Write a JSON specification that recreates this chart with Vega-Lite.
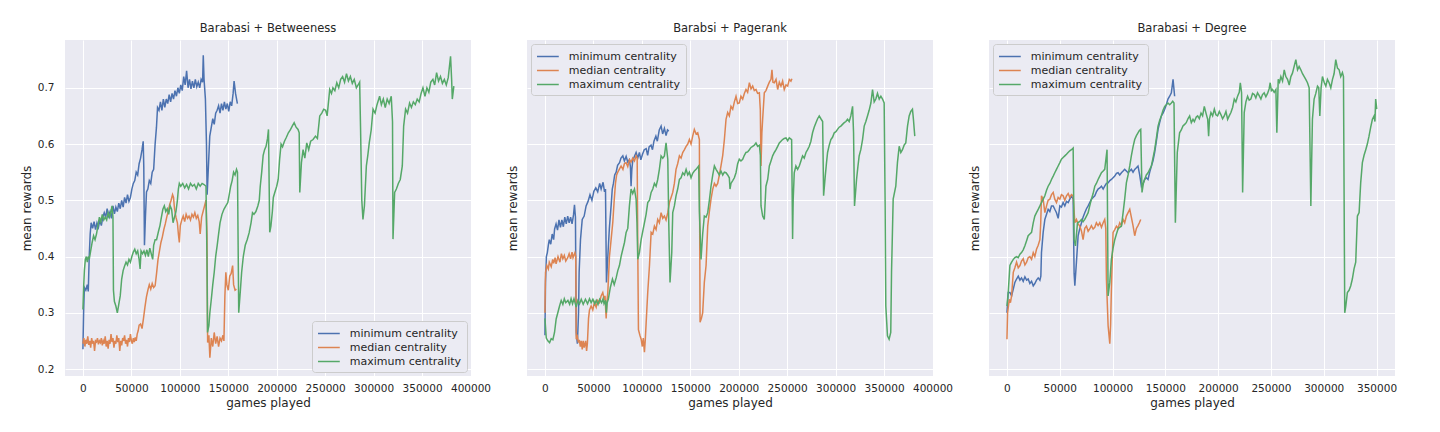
{
  "$schema": "https://vega.github.io/schema/vega-lite/v6.json",
  "background": "white",
  "padding": {"left": 20, "top": 22, "right": 5, "bottom": 5},
  "config": {
    "font": "DejaVu Sans",
    "view": {"fill": "#EAEAF2", "stroke": null},
    "axis": {"domain": false, "ticks": false, "grid": true, "gridColor": "#FFFFFF", "gridWidth": 1, "labelFontSize": 10.5, "labelColor": "#262626", "titleFontSize": 12, "titleFontWeight": "normal", "titleColor": "#262626", "labelFlush": false, "labelOverlap": false},
    "axisX": {"labelPadding": 7, "titlePadding": 4},
    "title": {"fontSize": 11.5, "fontWeight": "normal", "color": "#262626", "offset": 6},
    "legend": {"offset": 4, "padding": 5, "fillColor": "#EBEBF3", "strokeColor": "#CCCCCC", "cornerRadius": 3, "symbolType": "M-1,0H2.35", "symbolSize": 169, "symbolStrokeWidth": 1.5, "labelFontSize": 11, "labelColor": "#262626", "labelOffset": 17.8, "rowPadding": 1}
  },
  "datasets": {
    "p1": [
      {"s":"a","x":0,"y":0.235},{"s":"a","x":700,"y":0.30},{"s":"a","x":1500,"y":0.345},{"s":"a","x":3000,"y":0.340},{"s":"a","x":4500,"y":0.350},{"s":"a","x":5500,"y":0.338},{"s":"a","x":6500,"y":0.40},{"s":"a","x":7500,"y":0.44},{"s":"a","x":8500,"y":0.46},{"s":"a","x":10000,"y":0.45},{"s":"a","x":11500,"y":0.462},{"s":"a","x":13000,"y":0.448},{"s":"a","x":14500,"y":0.46},{"s":"a","x":16000,"y":0.452},{"s":"a","x":17500,"y":0.465},{"s":"a","x":19000,"y":0.455},{"s":"a","x":20500,"y":0.47},{"s":"a","x":22000,"y":0.478},{"s":"a","x":23500,"y":0.47},{"s":"a","x":25000,"y":0.485},{"s":"a","x":26500,"y":0.472},{"s":"a","x":28000,"y":0.48},{"s":"a","x":29500,"y":0.468},{"s":"a","x":31000,"y":0.49},{"s":"a","x":32500,"y":0.476},{"s":"a","x":34000,"y":0.488},{"s":"a","x":35500,"y":0.48},{"s":"a","x":37000,"y":0.495},{"s":"a","x":38500,"y":0.485},{"s":"a","x":40000,"y":0.50},{"s":"a","x":41500,"y":0.488},{"s":"a","x":43000,"y":0.505},{"s":"a","x":44500,"y":0.495},{"s":"a","x":46000,"y":0.51},{"s":"a","x":47500,"y":0.498},{"s":"a","x":49000,"y":0.505},{"s":"a","x":50500,"y":0.52},{"s":"a","x":52000,"y":0.53},{"s":"a","x":53500,"y":0.535},{"s":"a","x":55000,"y":0.55},{"s":"a","x":56500,"y":0.545},{"s":"a","x":58000,"y":0.565},{"s":"a","x":59500,"y":0.575},{"s":"a","x":61000,"y":0.59},{"s":"a","x":62200,"y":0.605},{"s":"a","x":62800,"y":0.56},{"s":"a","x":63500,"y":0.42},{"s":"a","x":64500,"y":0.47},{"s":"a","x":65600,"y":0.515},{"s":"a","x":67000,"y":0.52},{"s":"a","x":68500,"y":0.535},{"s":"a","x":70000,"y":0.53},{"s":"a","x":71500,"y":0.55},{"s":"a","x":73000,"y":0.555},{"s":"a","x":74500,"y":0.60},{"s":"a","x":75900,"y":0.63},{"s":"a","x":77000,"y":0.665},{"s":"a","x":78500,"y":0.66},{"s":"a","x":80000,"y":0.675},{"s":"a","x":81500,"y":0.66},{"s":"a","x":83000,"y":0.68},{"s":"a","x":84500,"y":0.665},{"s":"a","x":86000,"y":0.68},{"s":"a","x":87500,"y":0.672},{"s":"a","x":89000,"y":0.688},{"s":"a","x":90500,"y":0.675},{"s":"a","x":92000,"y":0.69},{"s":"a","x":93500,"y":0.68},{"s":"a","x":95000,"y":0.695},{"s":"a","x":96500,"y":0.685},{"s":"a","x":98000,"y":0.70},{"s":"a","x":99500,"y":0.69},{"s":"a","x":101000,"y":0.705},{"s":"a","x":102500,"y":0.695},{"s":"a","x":104000,"y":0.72},{"s":"a","x":105500,"y":0.705},{"s":"a","x":107000,"y":0.73},{"s":"a","x":108500,"y":0.70},{"s":"a","x":110000,"y":0.715},{"s":"a","x":111500,"y":0.698},{"s":"a","x":113000,"y":0.712},{"s":"a","x":114500,"y":0.70},{"s":"a","x":116000,"y":0.715},{"s":"a","x":117500,"y":0.702},{"s":"a","x":119000,"y":0.71},{"s":"a","x":120500,"y":0.70},{"s":"a","x":122000,"y":0.715},{"s":"a","x":123500,"y":0.71},{"s":"a","x":124200,"y":0.758},{"s":"a","x":125000,"y":0.715},{"s":"a","x":126400,"y":0.68},{"s":"a","x":127500,"y":0.60},{"s":"a","x":128200,"y":0.51},{"s":"a","x":129500,"y":0.56},{"s":"a","x":130900,"y":0.614},{"s":"a","x":132500,"y":0.63},{"s":"a","x":134000,"y":0.645},{"s":"a","x":135500,"y":0.635},{"s":"a","x":137000,"y":0.655},{"s":"a","x":138500,"y":0.66},{"s":"a","x":140000,"y":0.668},{"s":"a","x":141500,"y":0.655},{"s":"a","x":143000,"y":0.672},{"s":"a","x":144500,"y":0.66},{"s":"a","x":146000,"y":0.675},{"s":"a","x":147500,"y":0.662},{"s":"a","x":149000,"y":0.672},{"s":"a","x":150500,"y":0.658},{"s":"a","x":152000,"y":0.675},{"s":"a","x":153500,"y":0.668},{"s":"a","x":155000,"y":0.69},{"s":"a","x":156000,"y":0.712},{"s":"a","x":157500,"y":0.69},{"s":"a","x":159400,"y":0.672},
      {"s":"b","x":0,"y":0.245},{"s":"b","x":1000,"y":0.255},{"s":"b","x":2000,"y":0.24},{"s":"b","x":3000,"y":0.252},{"s":"b","x":4000,"y":0.245},{"s":"b","x":5000,"y":0.258},{"s":"b","x":6000,"y":0.243},{"s":"b","x":7000,"y":0.25},{"s":"b","x":8000,"y":0.238},{"s":"b","x":9000,"y":0.255},{"s":"b","x":10000,"y":0.245},{"s":"b","x":11000,"y":0.25},{"s":"b","x":12000,"y":0.232},{"s":"b","x":13000,"y":0.25},{"s":"b","x":14000,"y":0.248},{"s":"b","x":15000,"y":0.255},{"s":"b","x":16000,"y":0.244},{"s":"b","x":17000,"y":0.25},{"s":"b","x":18000,"y":0.247},{"s":"b","x":19000,"y":0.255},{"s":"b","x":20000,"y":0.242},{"s":"b","x":21000,"y":0.25},{"s":"b","x":22000,"y":0.245},{"s":"b","x":23000,"y":0.258},{"s":"b","x":24000,"y":0.24},{"s":"b","x":25000,"y":0.25},{"s":"b","x":26000,"y":0.236},{"s":"b","x":27000,"y":0.252},{"s":"b","x":28000,"y":0.245},{"s":"b","x":29000,"y":0.262},{"s":"b","x":30000,"y":0.248},{"s":"b","x":31000,"y":0.255},{"s":"b","x":32000,"y":0.238},{"s":"b","x":33000,"y":0.25},{"s":"b","x":34000,"y":0.245},{"s":"b","x":35000,"y":0.26},{"s":"b","x":36000,"y":0.248},{"s":"b","x":37000,"y":0.255},{"s":"b","x":38000,"y":0.232},{"s":"b","x":39000,"y":0.25},{"s":"b","x":40000,"y":0.242},{"s":"b","x":41000,"y":0.255},{"s":"b","x":42000,"y":0.25},{"s":"b","x":43000,"y":0.26},{"s":"b","x":44000,"y":0.245},{"s":"b","x":45000,"y":0.252},{"s":"b","x":46000,"y":0.24},{"s":"b","x":47000,"y":0.255},{"s":"b","x":48000,"y":0.248},{"s":"b","x":49000,"y":0.262},{"s":"b","x":50000,"y":0.25},{"s":"b","x":51000,"y":0.245},{"s":"b","x":52000,"y":0.255},{"s":"b","x":53000,"y":0.248},{"s":"b","x":54000,"y":0.256},{"s":"b","x":55000,"y":0.25},{"s":"b","x":56000,"y":0.262},{"s":"b","x":57000,"y":0.268},{"s":"b","x":58000,"y":0.278},{"s":"b","x":59500,"y":0.28},{"s":"b","x":61000,"y":0.272},{"s":"b","x":62500,"y":0.29},{"s":"b","x":64000,"y":0.31},{"s":"b","x":65500,"y":0.328},{"s":"b","x":67000,"y":0.34},{"s":"b","x":68500,"y":0.35},{"s":"b","x":70000,"y":0.342},{"s":"b","x":71500,"y":0.352},{"s":"b","x":73000,"y":0.345},{"s":"b","x":74500,"y":0.348},{"s":"b","x":76000,"y":0.37},{"s":"b","x":77500,"y":0.395},{"s":"b","x":79000,"y":0.41},{"s":"b","x":80500,"y":0.425},{"s":"b","x":82000,"y":0.435},{"s":"b","x":83500,"y":0.448},{"s":"b","x":85000,"y":0.458},{"s":"b","x":86500,"y":0.47},{"s":"b","x":88000,"y":0.48},{"s":"b","x":89500,"y":0.492},{"s":"b","x":91000,"y":0.50},{"s":"b","x":92500,"y":0.51},{"s":"b","x":93500,"y":0.505},{"s":"b","x":94500,"y":0.485},{"s":"b","x":96000,"y":0.47},{"s":"b","x":97500,"y":0.46},{"s":"b","x":98500,"y":0.44},{"s":"b","x":99500,"y":0.425},{"s":"b","x":100500,"y":0.455},{"s":"b","x":102000,"y":0.465},{"s":"b","x":103500,"y":0.472},{"s":"b","x":105000,"y":0.462},{"s":"b","x":106500,"y":0.475},{"s":"b","x":108000,"y":0.468},{"s":"b","x":109500,"y":0.472},{"s":"b","x":111000,"y":0.465},{"s":"b","x":112500,"y":0.475},{"s":"b","x":114000,"y":0.47},{"s":"b","x":115500,"y":0.478},{"s":"b","x":117000,"y":0.468},{"s":"b","x":118500,"y":0.473},{"s":"b","x":120000,"y":0.462},{"s":"b","x":121000,"y":0.44},{"s":"b","x":122500,"y":0.47},{"s":"b","x":124000,"y":0.48},{"s":"b","x":125500,"y":0.49},{"s":"b","x":127000,"y":0.50},{"s":"b","x":128000,"y":0.44},{"s":"b","x":128700,"y":0.247},{"s":"b","x":130000,"y":0.26},{"s":"b","x":131000,"y":0.22},{"s":"b","x":132500,"y":0.255},{"s":"b","x":134000,"y":0.24},{"s":"b","x":135500,"y":0.265},{"s":"b","x":137000,"y":0.245},{"s":"b","x":138500,"y":0.258},{"s":"b","x":140000,"y":0.24},{"s":"b","x":141500,"y":0.255},{"s":"b","x":143000,"y":0.25},{"s":"b","x":144500,"y":0.26},{"s":"b","x":145500,"y":0.25},{"s":"b","x":146500,"y":0.33},{"s":"b","x":147500,"y":0.372},{"s":"b","x":148500,"y":0.35},{"s":"b","x":150000,"y":0.34},{"s":"b","x":151500,"y":0.365},{"s":"b","x":153000,"y":0.37},{"s":"b","x":154500,"y":0.384},{"s":"b","x":155500,"y":0.35},{"s":"b","x":157000,"y":0.34},{"s":"b","x":158400,"y":0.342},
      {"s":"c","x":0,"y":0.306},{"s":"c","x":800,"y":0.348},{"s":"c","x":1500,"y":0.375},{"s":"c","x":2500,"y":0.395},{"s":"c","x":3500,"y":0.40},{"s":"c","x":4500,"y":0.39},{"s":"c","x":5500,"y":0.40},{"s":"c","x":6500,"y":0.395},{"s":"c","x":8000,"y":0.41},{"s":"c","x":9500,"y":0.425},{"s":"c","x":11000,"y":0.437},{"s":"c","x":12500,"y":0.43},{"s":"c","x":14000,"y":0.44},{"s":"c","x":15500,"y":0.455},{"s":"c","x":17000,"y":0.47},{"s":"c","x":18500,"y":0.462},{"s":"c","x":20000,"y":0.475},{"s":"c","x":21500,"y":0.465},{"s":"c","x":23000,"y":0.47},{"s":"c","x":24500,"y":0.465},{"s":"c","x":26000,"y":0.478},{"s":"c","x":27500,"y":0.47},{"s":"c","x":29000,"y":0.48},{"s":"c","x":30000,"y":0.49},{"s":"c","x":31000,"y":0.47},{"s":"c","x":31500,"y":0.34},{"s":"c","x":32500,"y":0.32},{"s":"c","x":34000,"y":0.312},{"s":"c","x":35500,"y":0.30},{"s":"c","x":37000,"y":0.315},{"s":"c","x":38500,"y":0.33},{"s":"c","x":40000,"y":0.36},{"s":"c","x":41500,"y":0.375},{"s":"c","x":43000,"y":0.383},{"s":"c","x":44500,"y":0.39},{"s":"c","x":46000,"y":0.385},{"s":"c","x":47500,"y":0.395},{"s":"c","x":49000,"y":0.39},{"s":"c","x":50500,"y":0.40},{"s":"c","x":52000,"y":0.408},{"s":"c","x":53500,"y":0.413},{"s":"c","x":55000,"y":0.405},{"s":"c","x":56500,"y":0.41},{"s":"c","x":58000,"y":0.395},{"s":"c","x":59000,"y":0.378},{"s":"c","x":60000,"y":0.41},{"s":"c","x":61500,"y":0.405},{"s":"c","x":63000,"y":0.41},{"s":"c","x":64500,"y":0.402},{"s":"c","x":66000,"y":0.412},{"s":"c","x":67500,"y":0.40},{"s":"c","x":69000,"y":0.415},{"s":"c","x":70500,"y":0.405},{"s":"c","x":72000,"y":0.395},{"s":"c","x":73000,"y":0.42},{"s":"c","x":74500,"y":0.43},{"s":"c","x":76000,"y":0.43},{"s":"c","x":78000,"y":0.445},{"s":"c","x":79500,"y":0.455},{"s":"c","x":81000,"y":0.47},{"s":"c","x":82500,"y":0.484},{"s":"c","x":84000,"y":0.49},{"s":"c","x":85500,"y":0.48},{"s":"c","x":87000,"y":0.485},{"s":"c","x":88500,"y":0.475},{"s":"c","x":90000,"y":0.49},{"s":"c","x":91500,"y":0.484},{"s":"c","x":93000,"y":0.46},{"s":"c","x":94500,"y":0.47},{"s":"c","x":96000,"y":0.48},{"s":"c","x":97500,"y":0.50},{"s":"c","x":98500,"y":0.52},{"s":"c","x":99500,"y":0.53},{"s":"c","x":101000,"y":0.525},{"s":"c","x":103000,"y":0.53},{"s":"c","x":105000,"y":0.522},{"s":"c","x":107000,"y":0.528},{"s":"c","x":109000,"y":0.52},{"s":"c","x":111000,"y":0.53},{"s":"c","x":113000,"y":0.525},{"s":"c","x":115000,"y":0.528},{"s":"c","x":117000,"y":0.52},{"s":"c","x":119000,"y":0.53},{"s":"c","x":121000,"y":0.525},{"s":"c","x":123000,"y":0.53},{"s":"c","x":125000,"y":0.528},{"s":"c","x":127000,"y":0.525},{"s":"c","x":128000,"y":0.40},{"s":"c","x":128600,"y":0.265},{"s":"c","x":130000,"y":0.277},{"s":"c","x":131000,"y":0.30},{"s":"c","x":132500,"y":0.324},{"s":"c","x":134000,"y":0.35},{"s":"c","x":135500,"y":0.372},{"s":"c","x":137000,"y":0.40},{"s":"c","x":138500,"y":0.419},{"s":"c","x":140000,"y":0.44},{"s":"c","x":141500,"y":0.46},{"s":"c","x":143500,"y":0.475},{"s":"c","x":145500,"y":0.484},{"s":"c","x":147500,"y":0.49},{"s":"c","x":149500,"y":0.496},{"s":"c","x":151000,"y":0.51},{"s":"c","x":152500,"y":0.525},{"s":"c","x":154000,"y":0.535},{"s":"c","x":155500,"y":0.55},{"s":"c","x":157000,"y":0.545},{"s":"c","x":158500,"y":0.555},{"s":"c","x":159500,"y":0.55},{"s":"c","x":160800,"y":0.30},{"s":"c","x":162500,"y":0.34},{"s":"c","x":163800,"y":0.372},{"s":"c","x":165500,"y":0.40},{"s":"c","x":167500,"y":0.42},{"s":"c","x":169500,"y":0.43},{"s":"c","x":171500,"y":0.442},{"s":"c","x":173500,"y":0.46},{"s":"c","x":175000,"y":0.478},{"s":"c","x":176500,"y":0.475},{"s":"c","x":178500,"y":0.48},{"s":"c","x":180500,"y":0.49},{"s":"c","x":182000,"y":0.50},{"s":"c","x":183000,"y":0.525},{"s":"c","x":184500,"y":0.55},{"s":"c","x":186000,"y":0.58},{"s":"c","x":187500,"y":0.59},{"s":"c","x":189000,"y":0.596},{"s":"c","x":190500,"y":0.61},{"s":"c","x":191500,"y":0.626},{"s":"c","x":192800,"y":0.443},{"s":"c","x":194000,"y":0.454},{"s":"c","x":195500,"y":0.48},{"s":"c","x":196500,"y":0.505},{"s":"c","x":198000,"y":0.514},{"s":"c","x":200000,"y":0.525},{"s":"c","x":201500,"y":0.537},{"s":"c","x":203000,"y":0.573},{"s":"c","x":204500,"y":0.60},{"s":"c","x":206000,"y":0.595},{"s":"c","x":208000,"y":0.605},{"s":"c","x":210000,"y":0.612},{"s":"c","x":212000,"y":0.62},{"s":"c","x":214000,"y":0.625},{"s":"c","x":216000,"y":0.632},{"s":"c","x":218000,"y":0.638},{"s":"c","x":220000,"y":0.63},{"s":"c","x":222000,"y":0.626},{"s":"c","x":223200,"y":0.62},{"s":"c","x":223800,"y":0.514},{"s":"c","x":225500,"y":0.567},{"s":"c","x":227200,"y":0.59},{"s":"c","x":229000,"y":0.575},{"s":"c","x":231000,"y":0.602},{"s":"c","x":233000,"y":0.59},{"s":"c","x":235000,"y":0.605},{"s":"c","x":237500,"y":0.608},{"s":"c","x":240000,"y":0.614},{"s":"c","x":242000,"y":0.61},{"s":"c","x":244400,"y":0.65},{"s":"c","x":246500,"y":0.655},{"s":"c","x":248500,"y":0.662},{"s":"c","x":250500,"y":0.66},{"s":"c","x":252000,"y":0.65},{"s":"c","x":253000,"y":0.667},{"s":"c","x":254700,"y":0.697},{"s":"c","x":256500,"y":0.69},{"s":"c","x":258000,"y":0.70},{"s":"c","x":260000,"y":0.695},{"s":"c","x":262000,"y":0.709},{"s":"c","x":264000,"y":0.70},{"s":"c","x":266000,"y":0.715},{"s":"c","x":268000,"y":0.72},{"s":"c","x":270000,"y":0.71},{"s":"c","x":272000,"y":0.725},{"s":"c","x":274000,"y":0.712},{"s":"c","x":276000,"y":0.72},{"s":"c","x":278000,"y":0.708},{"s":"c","x":280000,"y":0.715},{"s":"c","x":282200,"y":0.70},{"s":"c","x":284000,"y":0.705},{"s":"c","x":285600,"y":0.71},{"s":"c","x":286500,"y":0.63},{"s":"c","x":287800,"y":0.50},{"s":"c","x":289000,"y":0.466},{"s":"c","x":290500,"y":0.49},{"s":"c","x":292500,"y":0.561},{"s":"c","x":294000,"y":0.58},{"s":"c","x":295500,"y":0.602},{"s":"c","x":297500,"y":0.625},{"s":"c","x":299400,"y":0.662},{"s":"c","x":301500,"y":0.655},{"s":"c","x":303500,"y":0.67},{"s":"c","x":306200,"y":0.685},{"s":"c","x":308000,"y":0.67},{"s":"c","x":310000,"y":0.68},{"s":"c","x":312000,"y":0.665},{"s":"c","x":314000,"y":0.68},{"s":"c","x":316000,"y":0.672},{"s":"c","x":318200,"y":0.685},{"s":"c","x":319500,"y":0.64},{"s":"c","x":320000,"y":0.431},{"s":"c","x":321700,"y":0.514},{"s":"c","x":323500,"y":0.52},{"s":"c","x":325500,"y":0.53},{"s":"c","x":327500,"y":0.537},{"s":"c","x":329600,"y":0.561},{"s":"c","x":331000,"y":0.632},{"s":"c","x":333000,"y":0.662},{"s":"c","x":335000,"y":0.655},{"s":"c","x":337100,"y":0.673},{"s":"c","x":339000,"y":0.665},{"s":"c","x":341000,"y":0.675},{"s":"c","x":343000,"y":0.67},{"s":"c","x":345000,"y":0.68},{"s":"c","x":347000,"y":0.675},{"s":"c","x":349000,"y":0.69},{"s":"c","x":350900,"y":0.70},{"s":"c","x":353000,"y":0.685},{"s":"c","x":355000,"y":0.70},{"s":"c","x":357000,"y":0.692},{"s":"c","x":359000,"y":0.71},{"s":"c","x":361200,"y":0.715},{"s":"c","x":363000,"y":0.705},{"s":"c","x":365000,"y":0.727},{"s":"c","x":367000,"y":0.712},{"s":"c","x":369000,"y":0.72},{"s":"c","x":371000,"y":0.708},{"s":"c","x":373000,"y":0.715},{"s":"c","x":375000,"y":0.705},{"s":"c","x":377000,"y":0.718},{"s":"c","x":379400,"y":0.756},{"s":"c","x":380500,"y":0.715},{"s":"c","x":381200,"y":0.68},{"s":"c","x":382800,"y":0.703}
    ],
    "p2": [
      {"s":"a","x":0,"y":0.26},{"s":"a","x":600,"y":0.354},{"s":"a","x":1500,"y":0.40},{"s":"a","x":2500,"y":0.407},{"s":"a","x":3500,"y":0.42},{"s":"a","x":4500,"y":0.43},{"s":"a","x":6000,"y":0.422},{"s":"a","x":7500,"y":0.44},{"s":"a","x":9000,"y":0.43},{"s":"a","x":10000,"y":0.449},{"s":"a","x":11500,"y":0.458},{"s":"a","x":13000,"y":0.447},{"s":"a","x":14500,"y":0.465},{"s":"a","x":16000,"y":0.452},{"s":"a","x":17500,"y":0.465},{"s":"a","x":19000,"y":0.453},{"s":"a","x":20500,"y":0.47},{"s":"a","x":22000,"y":0.458},{"s":"a","x":23500,"y":0.472},{"s":"a","x":25000,"y":0.46},{"s":"a","x":26500,"y":0.47},{"s":"a","x":28000,"y":0.458},{"s":"a","x":29500,"y":0.474},{"s":"a","x":30500,"y":0.492},{"s":"a","x":31500,"y":0.47},{"s":"a","x":32300,"y":0.265},{"s":"a","x":33500,"y":0.245},{"s":"a","x":34700,"y":0.30},{"s":"a","x":35300,"y":0.372},{"s":"a","x":36700,"y":0.43},{"s":"a","x":38500,"y":0.466},{"s":"a","x":40500,"y":0.472},{"s":"a","x":42500,"y":0.49},{"s":"a","x":44500,"y":0.498},{"s":"a","x":46500,"y":0.51},{"s":"a","x":48500,"y":0.50},{"s":"a","x":50500,"y":0.516},{"s":"a","x":52500,"y":0.522},{"s":"a","x":54500,"y":0.515},{"s":"a","x":56500,"y":0.53},{"s":"a","x":58000,"y":0.52},{"s":"a","x":60000,"y":0.532},{"s":"a","x":61500,"y":0.515},{"s":"a","x":62500,"y":0.52},{"s":"a","x":63500,"y":0.354},{"s":"a","x":64900,"y":0.40},{"s":"a","x":66500,"y":0.45},{"s":"a","x":68300,"y":0.49},{"s":"a","x":69500,"y":0.52},{"s":"a","x":70700,"y":0.53},{"s":"a","x":72000,"y":0.545},{"s":"a","x":73500,"y":0.55},{"s":"a","x":75000,"y":0.562},{"s":"a","x":77000,"y":0.567},{"s":"a","x":78500,"y":0.575},{"s":"a","x":80400,"y":0.579},{"s":"a","x":82000,"y":0.57},{"s":"a","x":83800,"y":0.578},{"s":"a","x":85500,"y":0.568},{"s":"a","x":87200,"y":0.572},{"s":"a","x":88200,"y":0.56},{"s":"a","x":88900,"y":0.525},{"s":"a","x":89700,"y":0.555},{"s":"a","x":90600,"y":0.57},{"s":"a","x":92300,"y":0.578},{"s":"a","x":94100,"y":0.585},{"s":"a","x":95800,"y":0.575},{"s":"a","x":97500,"y":0.585},{"s":"a","x":99000,"y":0.572},{"s":"a","x":100700,"y":0.582},{"s":"a","x":102500,"y":0.59},{"s":"a","x":104500,"y":0.592},{"s":"a","x":106000,"y":0.58},{"s":"a","x":107500,"y":0.595},{"s":"a","x":109500,"y":0.598},{"s":"a","x":111000,"y":0.59},{"s":"a","x":112500,"y":0.605},{"s":"a","x":114500,"y":0.614},{"s":"a","x":116000,"y":0.605},{"s":"a","x":118000,"y":0.625},{"s":"a","x":119900,"y":0.632},{"s":"a","x":121500,"y":0.618},{"s":"a","x":123300,"y":0.628},{"s":"a","x":125000,"y":0.615},{"s":"a","x":126500,"y":0.625},{"s":"a","x":127800,"y":0.623},
      {"s":"b","x":0,"y":0.30},{"s":"b","x":600,"y":0.372},{"s":"b","x":2000,"y":0.384},{"s":"b","x":3500,"y":0.378},{"s":"b","x":4500,"y":0.39},{"s":"b","x":6500,"y":0.382},{"s":"b","x":8000,"y":0.395},{"s":"b","x":9000,"y":0.388},{"s":"b","x":10500,"y":0.398},{"s":"b","x":11500,"y":0.387},{"s":"b","x":13500,"y":0.40},{"s":"b","x":15500,"y":0.39},{"s":"b","x":17000,"y":0.405},{"s":"b","x":18500,"y":0.396},{"s":"b","x":20000,"y":0.402},{"s":"b","x":21500,"y":0.392},{"s":"b","x":23500,"y":0.398},{"s":"b","x":25000,"y":0.405},{"s":"b","x":26500,"y":0.396},{"s":"b","x":28000,"y":0.408},{"s":"b","x":29000,"y":0.398},{"s":"b","x":31000,"y":0.407},{"s":"b","x":31800,"y":0.40},{"s":"b","x":32300,"y":0.253},{"s":"b","x":33500,"y":0.258},{"s":"b","x":34500,"y":0.247},{"s":"b","x":35500,"y":0.252},{"s":"b","x":36500,"y":0.24},{"s":"b","x":37500,"y":0.25},{"s":"b","x":38500,"y":0.235},{"s":"b","x":39500,"y":0.25},{"s":"b","x":40500,"y":0.238},{"s":"b","x":42000,"y":0.25},{"s":"b","x":43000,"y":0.232},{"s":"b","x":43800,"y":0.245},{"s":"b","x":45000,"y":0.29},{"s":"b","x":46000,"y":0.305},{"s":"b","x":47700,"y":0.312},{"s":"b","x":49400,"y":0.305},{"s":"b","x":51000,"y":0.318},{"s":"b","x":52900,"y":0.31},{"s":"b","x":54500,"y":0.322},{"s":"b","x":56300,"y":0.318},{"s":"b","x":58000,"y":0.33},{"s":"b","x":59700,"y":0.336},{"s":"b","x":61000,"y":0.325},{"s":"b","x":62000,"y":0.33},{"s":"b","x":63200,"y":0.29},{"s":"b","x":64000,"y":0.32},{"s":"b","x":64900,"y":0.336},{"s":"b","x":66600,"y":0.40},{"s":"b","x":68300,"y":0.43},{"s":"b","x":70000,"y":0.46},{"s":"b","x":71500,"y":0.50},{"s":"b","x":72800,"y":0.53},{"s":"b","x":74000,"y":0.545},{"s":"b","x":75200,"y":0.55},{"s":"b","x":77000,"y":0.556},{"s":"b","x":78600,"y":0.561},{"s":"b","x":80500,"y":0.555},{"s":"b","x":82000,"y":0.565},{"s":"b","x":83800,"y":0.567},{"s":"b","x":85500,"y":0.56},{"s":"b","x":87200,"y":0.572},{"s":"b","x":88900,"y":0.568},{"s":"b","x":90600,"y":0.575},{"s":"b","x":92400,"y":0.57},{"s":"b","x":94100,"y":0.579},{"s":"b","x":95200,"y":0.575},{"s":"b","x":95800,"y":0.42},{"s":"b","x":96500,"y":0.27},{"s":"b","x":98000,"y":0.26},{"s":"b","x":99300,"y":0.253},{"s":"b","x":100500,"y":0.24},{"s":"b","x":101500,"y":0.255},{"s":"b","x":102700,"y":0.23},{"s":"b","x":103500,"y":0.25},{"s":"b","x":104400,"y":0.28},{"s":"b","x":105300,"y":0.31},{"s":"b","x":106100,"y":0.336},{"s":"b","x":107900,"y":0.384},{"s":"b","x":109600,"y":0.443},{"s":"b","x":111300,"y":0.44},{"s":"b","x":113000,"y":0.454},{"s":"b","x":114700,"y":0.448},{"s":"b","x":116400,"y":0.466},{"s":"b","x":118100,"y":0.46},{"s":"b","x":119900,"y":0.478},{"s":"b","x":121600,"y":0.468},{"s":"b","x":123300,"y":0.472},{"s":"b","x":125000,"y":0.465},{"s":"b","x":126800,"y":0.478},{"s":"b","x":128500,"y":0.496},{"s":"b","x":130200,"y":0.505},{"s":"b","x":131900,"y":0.514},{"s":"b","x":133600,"y":0.53},{"s":"b","x":135300,"y":0.555},{"s":"b","x":137000,"y":0.565},{"s":"b","x":138800,"y":0.579},{"s":"b","x":140500,"y":0.575},{"s":"b","x":142200,"y":0.585},{"s":"b","x":144000,"y":0.59},{"s":"b","x":145700,"y":0.596},{"s":"b","x":147400,"y":0.60},{"s":"b","x":149100,"y":0.608},{"s":"b","x":150800,"y":0.60},{"s":"b","x":152500,"y":0.614},{"s":"b","x":154200,"y":0.626},{"s":"b","x":156000,"y":0.618},{"s":"b","x":157700,"y":0.62},{"s":"b","x":159400,"y":0.608},{"s":"b","x":160100,"y":0.283},{"s":"b","x":161500,"y":0.29},{"s":"b","x":162800,"y":0.30},{"s":"b","x":164500,"y":0.354},{"s":"b","x":166300,"y":0.384},{"s":"b","x":168000,"y":0.454},{"s":"b","x":169700,"y":0.48},{"s":"b","x":171400,"y":0.502},{"s":"b","x":173200,"y":0.52},{"s":"b","x":174900,"y":0.53},{"s":"b","x":176600,"y":0.525},{"s":"b","x":178300,"y":0.53},{"s":"b","x":180000,"y":0.545},{"s":"b","x":181700,"y":0.561},{"s":"b","x":183500,"y":0.58},{"s":"b","x":185200,"y":0.608},{"s":"b","x":186900,"y":0.644},{"s":"b","x":188600,"y":0.656},{"s":"b","x":190300,"y":0.65},{"s":"b","x":192000,"y":0.667},{"s":"b","x":193800,"y":0.662},{"s":"b","x":195500,"y":0.675},{"s":"b","x":197200,"y":0.685},{"s":"b","x":198900,"y":0.672},{"s":"b","x":200600,"y":0.673},{"s":"b","x":202300,"y":0.685},{"s":"b","x":204100,"y":0.68},{"s":"b","x":205800,"y":0.69},{"s":"b","x":207500,"y":0.697},{"s":"b","x":209200,"y":0.692},{"s":"b","x":211000,"y":0.709},{"s":"b","x":212700,"y":0.698},{"s":"b","x":214400,"y":0.703},{"s":"b","x":216100,"y":0.695},{"s":"b","x":217800,"y":0.697},{"s":"b","x":219500,"y":0.69},{"s":"b","x":221300,"y":0.691},{"s":"b","x":222300,"y":0.66},{"s":"b","x":223000,"y":0.561},{"s":"b","x":223900,"y":0.62},{"s":"b","x":224700,"y":0.644},{"s":"b","x":226400,"y":0.691},{"s":"b","x":228100,"y":0.695},{"s":"b","x":229900,"y":0.703},{"s":"b","x":231600,"y":0.71},{"s":"b","x":233300,"y":0.715},{"s":"b","x":234300,"y":0.732},{"s":"b","x":235300,"y":0.71},{"s":"b","x":236700,"y":0.709},{"s":"b","x":238500,"y":0.715},{"s":"b","x":240200,"y":0.697},{"s":"b","x":241900,"y":0.71},{"s":"b","x":243600,"y":0.703},{"s":"b","x":245300,"y":0.712},{"s":"b","x":247000,"y":0.697},{"s":"b","x":248800,"y":0.705},{"s":"b","x":250500,"y":0.703},{"s":"b","x":252200,"y":0.715},{"s":"b","x":253900,"y":0.712},{"s":"b","x":254900,"y":0.716},
      {"s":"c","x":0,"y":0.29},{"s":"c","x":1400,"y":0.255},{"s":"c","x":3000,"y":0.25},{"s":"c","x":4800,"y":0.247},{"s":"c","x":6500,"y":0.254},{"s":"c","x":8200,"y":0.252},{"s":"c","x":9900,"y":0.265},{"s":"c","x":11600,"y":0.289},{"s":"c","x":13300,"y":0.30},{"s":"c","x":15100,"y":0.312},{"s":"c","x":16800,"y":0.322},{"s":"c","x":18500,"y":0.315},{"s":"c","x":20000,"y":0.325},{"s":"c","x":21500,"y":0.318},{"s":"c","x":23700,"y":0.322},{"s":"c","x":25500,"y":0.315},{"s":"c","x":27000,"y":0.325},{"s":"c","x":28500,"y":0.316},{"s":"c","x":30000,"y":0.325},{"s":"c","x":32300,"y":0.31},{"s":"c","x":34000,"y":0.322},{"s":"c","x":35700,"y":0.316},{"s":"c","x":37500,"y":0.324},{"s":"c","x":39500,"y":0.315},{"s":"c","x":41800,"y":0.324},{"s":"c","x":44000,"y":0.316},{"s":"c","x":46000,"y":0.325},{"s":"c","x":47700,"y":0.318},{"s":"c","x":49500,"y":0.324},{"s":"c","x":51500,"y":0.316},{"s":"c","x":53000,"y":0.322},{"s":"c","x":54800,"y":0.315},{"s":"c","x":56500,"y":0.324},{"s":"c","x":58500,"y":0.318},{"s":"c","x":60000,"y":0.325},{"s":"c","x":61000,"y":0.316},{"s":"c","x":62500,"y":0.322},{"s":"c","x":63400,"y":0.30},{"s":"c","x":64200,"y":0.318},{"s":"c","x":65400,"y":0.324},{"s":"c","x":67500,"y":0.345},{"s":"c","x":69700,"y":0.36},{"s":"c","x":71500,"y":0.35},{"s":"c","x":73500,"y":0.362},{"s":"c","x":75200,"y":0.375},{"s":"c","x":76900,"y":0.384},{"s":"c","x":78600,"y":0.40},{"s":"c","x":80400,"y":0.413},{"s":"c","x":82100,"y":0.425},{"s":"c","x":83800,"y":0.443},{"s":"c","x":85500,"y":0.45},{"s":"c","x":87200,"y":0.49},{"s":"c","x":88900,"y":0.52},{"s":"c","x":90600,"y":0.512},{"s":"c","x":92400,"y":0.52},{"s":"c","x":94100,"y":0.502},{"s":"c","x":95000,"y":0.46},{"s":"c","x":95800,"y":0.395},{"s":"c","x":97500,"y":0.407},{"s":"c","x":99300,"y":0.43},{"s":"c","x":101000,"y":0.445},{"s":"c","x":102700,"y":0.46},{"s":"c","x":104400,"y":0.475},{"s":"c","x":106100,"y":0.496},{"s":"c","x":107900,"y":0.50},{"s":"c","x":109600,"y":0.514},{"s":"c","x":111300,"y":0.52},{"s":"c","x":113000,"y":0.53},{"s":"c","x":114700,"y":0.525},{"s":"c","x":116400,"y":0.537},{"s":"c","x":118100,"y":0.555},{"s":"c","x":119900,"y":0.579},{"s":"c","x":121600,"y":0.575},{"s":"c","x":123300,"y":0.579},{"s":"c","x":125000,"y":0.602},{"s":"c","x":126800,"y":0.573},{"s":"c","x":127800,"y":0.46},{"s":"c","x":129100,"y":0.354},{"s":"c","x":130900,"y":0.407},{"s":"c","x":131900,"y":0.478},{"s":"c","x":133600,"y":0.49},{"s":"c","x":135300,"y":0.508},{"s":"c","x":137000,"y":0.52},{"s":"c","x":138800,"y":0.537},{"s":"c","x":140500,"y":0.54},{"s":"c","x":142200,"y":0.549},{"s":"c","x":144000,"y":0.545},{"s":"c","x":145700,"y":0.555},{"s":"c","x":147400,"y":0.545},{"s":"c","x":149100,"y":0.55},{"s":"c","x":150800,"y":0.54},{"s":"c","x":152500,"y":0.548},{"s":"c","x":154200,"y":0.552},{"s":"c","x":156000,"y":0.555},{"s":"c","x":158700,"y":0.561},{"s":"c","x":159400,"y":0.48},{"s":"c","x":161100,"y":0.395},{"s":"c","x":162800,"y":0.44},{"s":"c","x":164500,"y":0.472},{"s":"c","x":166300,"y":0.47},{"s":"c","x":168000,"y":0.478},{"s":"c","x":169700,"y":0.50},{"s":"c","x":171400,"y":0.525},{"s":"c","x":173200,"y":0.545},{"s":"c","x":174900,"y":0.561},{"s":"c","x":176600,"y":0.555},{"s":"c","x":178300,"y":0.55},{"s":"c","x":180000,"y":0.545},{"s":"c","x":181700,"y":0.552},{"s":"c","x":183500,"y":0.545},{"s":"c","x":185200,"y":0.55},{"s":"c","x":186900,"y":0.549},{"s":"c","x":188600,"y":0.545},{"s":"c","x":190300,"y":0.54},{"s":"c","x":191000,"y":0.52},{"s":"c","x":192000,"y":0.53},{"s":"c","x":193800,"y":0.535},{"s":"c","x":195500,"y":0.54},{"s":"c","x":197200,"y":0.549},{"s":"c","x":198900,"y":0.565},{"s":"c","x":200600,"y":0.573},{"s":"c","x":202300,"y":0.57},{"s":"c","x":204100,"y":0.573},{"s":"c","x":205800,"y":0.58},{"s":"c","x":207500,"y":0.585},{"s":"c","x":209200,"y":0.586},{"s":"c","x":211000,"y":0.59},{"s":"c","x":212700,"y":0.594},{"s":"c","x":214400,"y":0.596},{"s":"c","x":216100,"y":0.598},{"s":"c","x":217800,"y":0.602},{"s":"c","x":219500,"y":0.596},{"s":"c","x":221300,"y":0.598},{"s":"c","x":222300,"y":0.58},{"s":"c","x":223000,"y":0.49},{"s":"c","x":224700,"y":0.472},{"s":"c","x":226400,"y":0.466},{"s":"c","x":228100,"y":0.525},{"s":"c","x":229900,"y":0.537},{"s":"c","x":231600,"y":0.561},{"s":"c","x":233300,"y":0.57},{"s":"c","x":235000,"y":0.579},{"s":"c","x":236700,"y":0.585},{"s":"c","x":238500,"y":0.59},{"s":"c","x":240200,"y":0.596},{"s":"c","x":241900,"y":0.602},{"s":"c","x":243600,"y":0.605},{"s":"c","x":245300,"y":0.608},{"s":"c","x":247000,"y":0.61},{"s":"c","x":248800,"y":0.611},{"s":"c","x":250500,"y":0.606},{"s":"c","x":252200,"y":0.611},{"s":"c","x":254600,"y":0.608},{"s":"c","x":255600,"y":0.431},{"s":"c","x":256200,"y":0.50},{"s":"c","x":257300,"y":0.549},{"s":"c","x":259000,"y":0.561},{"s":"c","x":260800,"y":0.555},{"s":"c","x":262500,"y":0.561},{"s":"c","x":264200,"y":0.57},{"s":"c","x":265900,"y":0.579},{"s":"c","x":267600,"y":0.575},{"s":"c","x":269400,"y":0.585},{"s":"c","x":271100,"y":0.59},{"s":"c","x":272800,"y":0.596},{"s":"c","x":274500,"y":0.605},{"s":"c","x":276200,"y":0.62},{"s":"c","x":277900,"y":0.63},{"s":"c","x":279700,"y":0.638},{"s":"c","x":281400,"y":0.645},{"s":"c","x":283100,"y":0.65},{"s":"c","x":284800,"y":0.645},{"s":"c","x":286600,"y":0.64},{"s":"c","x":287600,"y":0.508},{"s":"c","x":289300,"y":0.543},{"s":"c","x":290500,"y":0.565},{"s":"c","x":291700,"y":0.585},{"s":"c","x":293400,"y":0.598},{"s":"c","x":295100,"y":0.608},{"s":"c","x":296800,"y":0.612},{"s":"c","x":298600,"y":0.62},{"s":"c","x":300300,"y":0.622},{"s":"c","x":302000,"y":0.626},{"s":"c","x":303700,"y":0.63},{"s":"c","x":305400,"y":0.632},{"s":"c","x":307100,"y":0.635},{"s":"c","x":308900,"y":0.638},{"s":"c","x":310600,"y":0.64},{"s":"c","x":312300,"y":0.644},{"s":"c","x":314000,"y":0.64},{"s":"c","x":315700,"y":0.65},{"s":"c","x":317500,"y":0.667},{"s":"c","x":318500,"y":0.62},{"s":"c","x":319500,"y":0.49},{"s":"c","x":321600,"y":0.537},{"s":"c","x":323000,"y":0.56},{"s":"c","x":324300,"y":0.579},{"s":"c","x":326000,"y":0.59},{"s":"c","x":327800,"y":0.608},{"s":"c","x":329500,"y":0.632},{"s":"c","x":331200,"y":0.64},{"s":"c","x":332900,"y":0.65},{"s":"c","x":334600,"y":0.66},{"s":"c","x":336400,"y":0.673},{"s":"c","x":338100,"y":0.697},{"s":"c","x":339800,"y":0.675},{"s":"c","x":341500,"y":0.68},{"s":"c","x":343200,"y":0.69},{"s":"c","x":345000,"y":0.68},{"s":"c","x":346700,"y":0.685},{"s":"c","x":348400,"y":0.68},{"s":"c","x":350100,"y":0.673},{"s":"c","x":351100,"y":0.49},{"s":"c","x":351800,"y":0.312},{"s":"c","x":353500,"y":0.259},{"s":"c","x":355200,"y":0.253},{"s":"c","x":356900,"y":0.265},{"s":"c","x":357700,"y":0.372},{"s":"c","x":359400,"y":0.502},{"s":"c","x":362100,"y":0.525},{"s":"c","x":363800,"y":0.567},{"s":"c","x":365600,"y":0.596},{"s":"c","x":367300,"y":0.585},{"s":"c","x":369000,"y":0.59},{"s":"c","x":370700,"y":0.598},{"s":"c","x":372400,"y":0.602},{"s":"c","x":374200,"y":0.632},{"s":"c","x":375900,"y":0.65},{"s":"c","x":377600,"y":0.658},{"s":"c","x":379300,"y":0.662},{"s":"c","x":380300,"y":0.644},{"s":"c","x":381700,"y":0.614}
    ],
    "p3": [
      {"s":"a","x":0,"y":0.30},{"s":"a","x":1200,"y":0.336},{"s":"a","x":2800,"y":0.336},{"s":"a","x":4400,"y":0.33},{"s":"a","x":6000,"y":0.342},{"s":"a","x":7500,"y":0.354},{"s":"a","x":9100,"y":0.36},{"s":"a","x":10700,"y":0.365},{"s":"a","x":12300,"y":0.358},{"s":"a","x":13800,"y":0.362},{"s":"a","x":15400,"y":0.356},{"s":"a","x":17000,"y":0.364},{"s":"a","x":18600,"y":0.358},{"s":"a","x":20100,"y":0.36},{"s":"a","x":21700,"y":0.352},{"s":"a","x":23300,"y":0.356},{"s":"a","x":24900,"y":0.348},{"s":"a","x":26400,"y":0.352},{"s":"a","x":28000,"y":0.358},{"s":"a","x":29600,"y":0.362},{"s":"a","x":31200,"y":0.358},{"s":"a","x":32100,"y":0.365},{"s":"a","x":32700,"y":0.407},{"s":"a","x":34300,"y":0.443},{"s":"a","x":35900,"y":0.466},{"s":"a","x":37500,"y":0.475},{"s":"a","x":39000,"y":0.484},{"s":"a","x":40600,"y":0.48},{"s":"a","x":42200,"y":0.49},{"s":"a","x":43800,"y":0.49},{"s":"a","x":45300,"y":0.484},{"s":"a","x":46900,"y":0.478},{"s":"a","x":48500,"y":0.468},{"s":"a","x":50100,"y":0.49},{"s":"a","x":51600,"y":0.488},{"s":"a","x":53200,"y":0.496},{"s":"a","x":54800,"y":0.49},{"s":"a","x":56400,"y":0.498},{"s":"a","x":58000,"y":0.496},{"s":"a","x":59500,"y":0.502},{"s":"a","x":61100,"y":0.508},{"s":"a","x":62700,"y":0.502},{"s":"a","x":63600,"y":0.37},{"s":"a","x":64300,"y":0.348},{"s":"a","x":65800,"y":0.39},{"s":"a","x":67400,"y":0.437},{"s":"a","x":69000,"y":0.45},{"s":"a","x":70600,"y":0.46},{"s":"a","x":72100,"y":0.47},{"s":"a","x":73700,"y":0.478},{"s":"a","x":75300,"y":0.485},{"s":"a","x":76900,"y":0.49},{"s":"a","x":78400,"y":0.496},{"s":"a","x":80000,"y":0.502},{"s":"a","x":81600,"y":0.505},{"s":"a","x":83200,"y":0.508},{"s":"a","x":84700,"y":0.515},{"s":"a","x":86300,"y":0.52},{"s":"a","x":87900,"y":0.522},{"s":"a","x":89500,"y":0.525},{"s":"a","x":91100,"y":0.52},{"s":"a","x":92600,"y":0.525},{"s":"a","x":94200,"y":0.53},{"s":"a","x":95800,"y":0.531},{"s":"a","x":97400,"y":0.535},{"s":"a","x":98900,"y":0.537},{"s":"a","x":100500,"y":0.54},{"s":"a","x":102100,"y":0.543},{"s":"a","x":103700,"y":0.548},{"s":"a","x":105200,"y":0.549},{"s":"a","x":106800,"y":0.545},{"s":"a","x":108400,"y":0.549},{"s":"a","x":110000,"y":0.552},{"s":"a","x":111500,"y":0.555},{"s":"a","x":113100,"y":0.552},{"s":"a","x":114700,"y":0.549},{"s":"a","x":116300,"y":0.552},{"s":"a","x":117800,"y":0.555},{"s":"a","x":119400,"y":0.55},{"s":"a","x":121000,"y":0.555},{"s":"a","x":122600,"y":0.558},{"s":"a","x":124100,"y":0.561},{"s":"a","x":125700,"y":0.545},{"s":"a","x":127300,"y":0.525},{"s":"a","x":128900,"y":0.53},{"s":"a","x":130400,"y":0.537},{"s":"a","x":132000,"y":0.54},{"s":"a","x":133600,"y":0.537},{"s":"a","x":135200,"y":0.55},{"s":"a","x":136800,"y":0.561},{"s":"a","x":138300,"y":0.57},{"s":"a","x":139900,"y":0.585},{"s":"a","x":141500,"y":0.605},{"s":"a","x":143100,"y":0.626},{"s":"a","x":144600,"y":0.638},{"s":"a","x":146200,"y":0.65},{"s":"a","x":147800,"y":0.655},{"s":"a","x":149400,"y":0.662},{"s":"a","x":150900,"y":0.67},{"s":"a","x":152500,"y":0.68},{"s":"a","x":154100,"y":0.685},{"s":"a","x":155700,"y":0.691},{"s":"a","x":157300,"y":0.715},{"s":"a","x":158800,"y":0.685},
      {"s":"b","x":0,"y":0.253},{"s":"b","x":600,"y":0.30},{"s":"b","x":2200,"y":0.324},{"s":"b","x":3300,"y":0.318},{"s":"b","x":4400,"y":0.33},{"s":"b","x":6000,"y":0.372},{"s":"b","x":7500,"y":0.38},{"s":"b","x":9100,"y":0.39},{"s":"b","x":10700,"y":0.38},{"s":"b","x":12300,"y":0.384},{"s":"b","x":13800,"y":0.392},{"s":"b","x":15400,"y":0.396},{"s":"b","x":17000,"y":0.385},{"s":"b","x":18600,"y":0.39},{"s":"b","x":20100,"y":0.398},{"s":"b","x":21700,"y":0.40},{"s":"b","x":23300,"y":0.395},{"s":"b","x":24900,"y":0.407},{"s":"b","x":26400,"y":0.40},{"s":"b","x":28000,"y":0.413},{"s":"b","x":29600,"y":0.42},{"s":"b","x":31200,"y":0.43},{"s":"b","x":32000,"y":0.46},{"s":"b","x":32700,"y":0.508},{"s":"b","x":34300,"y":0.502},{"s":"b","x":35900,"y":0.478},{"s":"b","x":37500,"y":0.49},{"s":"b","x":39000,"y":0.50},{"s":"b","x":40600,"y":0.502},{"s":"b","x":42200,"y":0.51},{"s":"b","x":43800,"y":0.514},{"s":"b","x":45300,"y":0.502},{"s":"b","x":46900,"y":0.496},{"s":"b","x":48500,"y":0.505},{"s":"b","x":50100,"y":0.502},{"s":"b","x":51600,"y":0.51},{"s":"b","x":53200,"y":0.508},{"s":"b","x":54800,"y":0.50},{"s":"b","x":56400,"y":0.508},{"s":"b","x":58000,"y":0.512},{"s":"b","x":59500,"y":0.505},{"s":"b","x":61100,"y":0.51},{"s":"b","x":62700,"y":0.508},{"s":"b","x":63600,"y":0.48},{"s":"b","x":64300,"y":0.46},{"s":"b","x":65800,"y":0.466},{"s":"b","x":67400,"y":0.458},{"s":"b","x":69000,"y":0.454},{"s":"b","x":70600,"y":0.445},{"s":"b","x":72100,"y":0.43},{"s":"b","x":73700,"y":0.45},{"s":"b","x":75300,"y":0.454},{"s":"b","x":76900,"y":0.445},{"s":"b","x":78400,"y":0.449},{"s":"b","x":80000,"y":0.455},{"s":"b","x":81600,"y":0.449},{"s":"b","x":83200,"y":0.452},{"s":"b","x":84700,"y":0.46},{"s":"b","x":86300,"y":0.455},{"s":"b","x":87900,"y":0.46},{"s":"b","x":89500,"y":0.452},{"s":"b","x":91100,"y":0.46},{"s":"b","x":92600,"y":0.466},{"s":"b","x":93600,"y":0.45},{"s":"b","x":94200,"y":0.36},{"s":"b","x":95800,"y":0.277},{"s":"b","x":97400,"y":0.245},{"s":"b","x":98200,"y":0.28},{"s":"b","x":98900,"y":0.342},{"s":"b","x":100500,"y":0.443},{"s":"b","x":102100,"y":0.448},{"s":"b","x":103700,"y":0.454},{"s":"b","x":105200,"y":0.45},{"s":"b","x":106800,"y":0.46},{"s":"b","x":108400,"y":0.455},{"s":"b","x":110000,"y":0.466},{"s":"b","x":111500,"y":0.46},{"s":"b","x":113100,"y":0.472},{"s":"b","x":114700,"y":0.478},{"s":"b","x":116300,"y":0.484},{"s":"b","x":117800,"y":0.47},{"s":"b","x":119400,"y":0.455},{"s":"b","x":121000,"y":0.437},{"s":"b","x":122600,"y":0.45},{"s":"b","x":124100,"y":0.455},{"s":"b","x":125400,"y":0.46},{"s":"b","x":126700,"y":0.466},
      {"s":"c","x":0,"y":0.312},{"s":"c","x":1200,"y":0.336},{"s":"c","x":2800,"y":0.384},{"s":"c","x":4400,"y":0.39},{"s":"c","x":6000,"y":0.395},{"s":"c","x":7500,"y":0.398},{"s":"c","x":9100,"y":0.40},{"s":"c","x":10700,"y":0.398},{"s":"c","x":12300,"y":0.404},{"s":"c","x":13800,"y":0.407},{"s":"c","x":15400,"y":0.412},{"s":"c","x":17000,"y":0.419},{"s":"c","x":18600,"y":0.428},{"s":"c","x":20100,"y":0.437},{"s":"c","x":21700,"y":0.44},{"s":"c","x":23300,"y":0.443},{"s":"c","x":24900,"y":0.46},{"s":"c","x":26400,"y":0.472},{"s":"c","x":28000,"y":0.478},{"s":"c","x":29600,"y":0.484},{"s":"c","x":31200,"y":0.49},{"s":"c","x":32700,"y":0.496},{"s":"c","x":34300,"y":0.502},{"s":"c","x":35900,"y":0.508},{"s":"c","x":37500,"y":0.518},{"s":"c","x":39000,"y":0.525},{"s":"c","x":40600,"y":0.53},{"s":"c","x":42200,"y":0.537},{"s":"c","x":43800,"y":0.543},{"s":"c","x":45300,"y":0.549},{"s":"c","x":46900,"y":0.555},{"s":"c","x":48500,"y":0.561},{"s":"c","x":50100,"y":0.567},{"s":"c","x":51600,"y":0.573},{"s":"c","x":53200,"y":0.576},{"s":"c","x":54800,"y":0.579},{"s":"c","x":56400,"y":0.582},{"s":"c","x":57900,"y":0.585},{"s":"c","x":59500,"y":0.588},{"s":"c","x":61100,"y":0.59},{"s":"c","x":62700,"y":0.593},{"s":"c","x":63600,"y":0.43},{"s":"c","x":64900,"y":0.419},{"s":"c","x":66800,"y":0.46},{"s":"c","x":68700,"y":0.462},{"s":"c","x":70600,"y":0.466},{"s":"c","x":72100,"y":0.462},{"s":"c","x":73700,"y":0.466},{"s":"c","x":75300,"y":0.472},{"s":"c","x":76900,"y":0.478},{"s":"c","x":78400,"y":0.49},{"s":"c","x":80000,"y":0.502},{"s":"c","x":81600,"y":0.512},{"s":"c","x":83200,"y":0.525},{"s":"c","x":84700,"y":0.53},{"s":"c","x":86300,"y":0.537},{"s":"c","x":87900,"y":0.543},{"s":"c","x":89500,"y":0.549},{"s":"c","x":91100,"y":0.552},{"s":"c","x":92600,"y":0.555},{"s":"c","x":94800,"y":0.59},{"s":"c","x":95800,"y":0.33},{"s":"c","x":97400,"y":0.354},{"s":"c","x":98900,"y":0.395},{"s":"c","x":100500,"y":0.415},{"s":"c","x":102100,"y":0.43},{"s":"c","x":103700,"y":0.44},{"s":"c","x":105200,"y":0.449},{"s":"c","x":106800,"y":0.452},{"s":"c","x":108400,"y":0.454},{"s":"c","x":110000,"y":0.478},{"s":"c","x":111500,"y":0.502},{"s":"c","x":113100,"y":0.531},{"s":"c","x":114700,"y":0.545},{"s":"c","x":116300,"y":0.561},{"s":"c","x":117800,"y":0.579},{"s":"c","x":119400,"y":0.595},{"s":"c","x":121000,"y":0.608},{"s":"c","x":122600,"y":0.615},{"s":"c","x":124100,"y":0.62},{"s":"c","x":125400,"y":0.624},{"s":"c","x":126700,"y":0.626},{"s":"c","x":127900,"y":0.514},{"s":"c","x":129200,"y":0.53},{"s":"c","x":130400,"y":0.537},{"s":"c","x":132000,"y":0.545},{"s":"c","x":133600,"y":0.549},{"s":"c","x":135200,"y":0.555},{"s":"c","x":136800,"y":0.561},{"s":"c","x":138300,"y":0.575},{"s":"c","x":139900,"y":0.59},{"s":"c","x":141500,"y":0.61},{"s":"c","x":143100,"y":0.632},{"s":"c","x":144600,"y":0.642},{"s":"c","x":146200,"y":0.65},{"s":"c","x":147800,"y":0.66},{"s":"c","x":149400,"y":0.667},{"s":"c","x":150900,"y":0.67},{"s":"c","x":152500,"y":0.673},{"s":"c","x":154100,"y":0.67},{"s":"c","x":155700,"y":0.673},{"s":"c","x":157000,"y":0.676},{"s":"c","x":158200,"y":0.673},{"s":"c","x":159500,"y":0.46},{"s":"c","x":161300,"y":0.585},{"s":"c","x":163500,"y":0.62},{"s":"c","x":165100,"y":0.625},{"s":"c","x":166700,"y":0.632},{"s":"c","x":168300,"y":0.635},{"s":"c","x":169800,"y":0.638},{"s":"c","x":171400,"y":0.645},{"s":"c","x":173000,"y":0.65},{"s":"c","x":174600,"y":0.638},{"s":"c","x":176200,"y":0.644},{"s":"c","x":177500,"y":0.64},{"s":"c","x":179300,"y":0.648},{"s":"c","x":180600,"y":0.65},{"s":"c","x":182200,"y":0.645},{"s":"c","x":183800,"y":0.655},{"s":"c","x":185300,"y":0.65},{"s":"c","x":186900,"y":0.667},{"s":"c","x":188500,"y":0.655},{"s":"c","x":190100,"y":0.644},{"s":"c","x":191000,"y":0.614},{"s":"c","x":191800,"y":0.645},{"s":"c","x":193200,"y":0.656},{"s":"c","x":194800,"y":0.65},{"s":"c","x":196400,"y":0.662},{"s":"c","x":197900,"y":0.652},{"s":"c","x":199500,"y":0.65},{"s":"c","x":201100,"y":0.658},{"s":"c","x":202700,"y":0.652},{"s":"c","x":204200,"y":0.645},{"s":"c","x":205800,"y":0.65},{"s":"c","x":207400,"y":0.658},{"s":"c","x":209000,"y":0.644},{"s":"c","x":210500,"y":0.65},{"s":"c","x":212100,"y":0.656},{"s":"c","x":213700,"y":0.665},{"s":"c","x":215300,"y":0.68},{"s":"c","x":216800,"y":0.675},{"s":"c","x":218400,"y":0.685},{"s":"c","x":220000,"y":0.692},{"s":"c","x":221000,"y":0.709},{"s":"c","x":222200,"y":0.691},{"s":"c","x":223200,"y":0.514},{"s":"c","x":224700,"y":0.656},{"s":"c","x":226300,"y":0.675},{"s":"c","x":227900,"y":0.685},{"s":"c","x":229400,"y":0.678},{"s":"c","x":231000,"y":0.68},{"s":"c","x":232600,"y":0.69},{"s":"c","x":234200,"y":0.688},{"s":"c","x":235700,"y":0.682},{"s":"c","x":237300,"y":0.691},{"s":"c","x":238900,"y":0.686},{"s":"c","x":240500,"y":0.68},{"s":"c","x":242000,"y":0.688},{"s":"c","x":243600,"y":0.691},{"s":"c","x":245200,"y":0.684},{"s":"c","x":246800,"y":0.69},{"s":"c","x":248300,"y":0.698},{"s":"c","x":249300,"y":0.709},{"s":"c","x":250400,"y":0.695},{"s":"c","x":251500,"y":0.697},{"s":"c","x":253100,"y":0.692},{"s":"c","x":254700,"y":0.697},{"s":"c","x":255600,"y":0.62},{"s":"c","x":256900,"y":0.715},{"s":"c","x":258200,"y":0.71},{"s":"c","x":259400,"y":0.72},{"s":"c","x":261000,"y":0.712},{"s":"c","x":262600,"y":0.732},{"s":"c","x":264100,"y":0.72},{"s":"c","x":265700,"y":0.715},{"s":"c","x":267300,"y":0.705},{"s":"c","x":268900,"y":0.72},{"s":"c","x":270400,"y":0.726},{"s":"c","x":272000,"y":0.738},{"s":"c","x":273600,"y":0.75},{"s":"c","x":275200,"y":0.732},{"s":"c","x":276700,"y":0.738},{"s":"c","x":278300,"y":0.732},{"s":"c","x":279900,"y":0.725},{"s":"c","x":281500,"y":0.72},{"s":"c","x":283000,"y":0.715},{"s":"c","x":284600,"y":0.709},{"s":"c","x":286200,"y":0.70},{"s":"c","x":287800,"y":0.49},{"s":"c","x":289300,"y":0.644},{"s":"c","x":290900,"y":0.68},{"s":"c","x":292500,"y":0.69},{"s":"c","x":294100,"y":0.703},{"s":"c","x":295300,"y":0.70},{"s":"c","x":296300,"y":0.65},{"s":"c","x":297500,"y":0.70},{"s":"c","x":298800,"y":0.72},{"s":"c","x":300400,"y":0.71},{"s":"c","x":302000,"y":0.703},{"s":"c","x":303500,"y":0.715},{"s":"c","x":305100,"y":0.709},{"s":"c","x":306700,"y":0.70},{"s":"c","x":308300,"y":0.715},{"s":"c","x":309800,"y":0.725},{"s":"c","x":311400,"y":0.75},{"s":"c","x":313000,"y":0.735},{"s":"c","x":314600,"y":0.732},{"s":"c","x":316100,"y":0.72},{"s":"c","x":317700,"y":0.727},{"s":"c","x":318700,"y":0.72},{"s":"c","x":319900,"y":0.30},{"s":"c","x":320900,"y":0.312},{"s":"c","x":322400,"y":0.336},{"s":"c","x":324000,"y":0.34},{"s":"c","x":325600,"y":0.348},{"s":"c","x":327100,"y":0.36},{"s":"c","x":328700,"y":0.378},{"s":"c","x":330300,"y":0.39},{"s":"c","x":331900,"y":0.472},{"s":"c","x":333500,"y":0.478},{"s":"c","x":335000,"y":0.531},{"s":"c","x":336600,"y":0.567},{"s":"c","x":338200,"y":0.58},{"s":"c","x":339800,"y":0.59},{"s":"c","x":341300,"y":0.60},{"s":"c","x":342900,"y":0.614},{"s":"c","x":344500,"y":0.63},{"s":"c","x":346100,"y":0.644},{"s":"c","x":347700,"y":0.65},{"s":"c","x":348500,"y":0.64},{"s":"c","x":349200,"y":0.68},{"s":"c","x":350200,"y":0.662}
    ]
  },
  "hconcat": [
    {
      "width": 406,
      "height": 336,
      "title": "Barabasi + Betweeness",
      "data": {"name": "p1"},
      "mark": {"type": "line", "strokeWidth": 1.5, "clip": true},
      "encoding": {
        "x": {"field": "x", "type": "quantitative", "scale": {"domain": [-18500, 400500], "nice": false, "zero": false}, "axis": {"values": [0, 50000, 100000, 150000, 200000, 250000, 300000, 350000, 400000], "format": "d", "title": "games played"}},
        "y": {"field": "y", "type": "quantitative", "scale": {"domain": [0.1876, 0.785], "nice": false, "zero": false}, "axis": {"values": [0.2, 0.3, 0.4, 0.5, 0.6, 0.7], "format": ".1f", "title": "mean rewards", "labelPadding": 11, "titlePadding": 4}},
        "color": {"field": "s", "type": "nominal", "scale": {"domain": ["a", "b", "c"], "range": ["#4C72B0", "#DD8452", "#55A868"]}, "legend": {"title": null, "orient": "bottom-right", "labelExpr": "datum.label == 'a' ? 'minimum centrality' : datum.label == 'b' ? 'median centrality' : 'maximum centrality'"}}
      }
    },
    {
      "width": 406,
      "height": 336,
      "title": "Barabsi + Pagerank",
      "data": {"name": "p2"},
      "mark": {"type": "line", "strokeWidth": 1.5, "clip": true},
      "encoding": {
        "x": {"field": "x", "type": "quantitative", "scale": {"domain": [-18500, 400500], "nice": false, "zero": false}, "axis": {"values": [0, 50000, 100000, 150000, 200000, 250000, 300000, 350000, 400000], "format": "d", "title": "games played"}},
        "y": {"field": "y", "type": "quantitative", "scale": {"domain": [0.1876, 0.785], "nice": false, "zero": false}, "axis": {"values": [0.2, 0.3, 0.4, 0.5, 0.6, 0.7], "labels": false, "title": "mean rewards", "titlePadding": 8}},
        "color": {"field": "s", "type": "nominal", "scale": {"domain": ["a", "b", "c"], "range": ["#4C72B0", "#DD8452", "#55A868"]}, "legend": {"title": null, "orient": "top-left", "labelExpr": "datum.label == 'a' ? 'minimum centrality' : datum.label == 'b' ? 'median centrality' : 'maximum centrality'"}}
      }
    },
    {
      "width": 406,
      "height": 336,
      "title": "Barabasi + Degree",
      "data": {"name": "p3"},
      "mark": {"type": "line", "strokeWidth": 1.5, "clip": true},
      "encoding": {
        "x": {"field": "x", "type": "quantitative", "scale": {"domain": [-17000, 367500], "nice": false, "zero": false}, "axis": {"values": [0, 50000, 100000, 150000, 200000, 250000, 300000, 350000], "format": "d", "title": "games played"}},
        "y": {"field": "y", "type": "quantitative", "scale": {"domain": [0.1876, 0.785], "nice": false, "zero": false}, "axis": {"values": [0.2, 0.3, 0.4, 0.5, 0.6, 0.7], "labels": false, "title": "mean rewards", "titlePadding": 8}},
        "color": {"field": "s", "type": "nominal", "scale": {"domain": ["a", "b", "c"], "range": ["#4C72B0", "#DD8452", "#55A868"]}, "legend": {"title": null, "orient": "top-left", "labelExpr": "datum.label == 'a' ? 'minimum centrality' : datum.label == 'b' ? 'median centrality' : 'maximum centrality'"}}
      }
    }
  ],
  "spacing": 56,
  "bounds": "flush",
  "resolve": {"scale": {"x": "independent", "y": "independent", "color": "independent"}, "legend": {"color": "independent"}}
}
